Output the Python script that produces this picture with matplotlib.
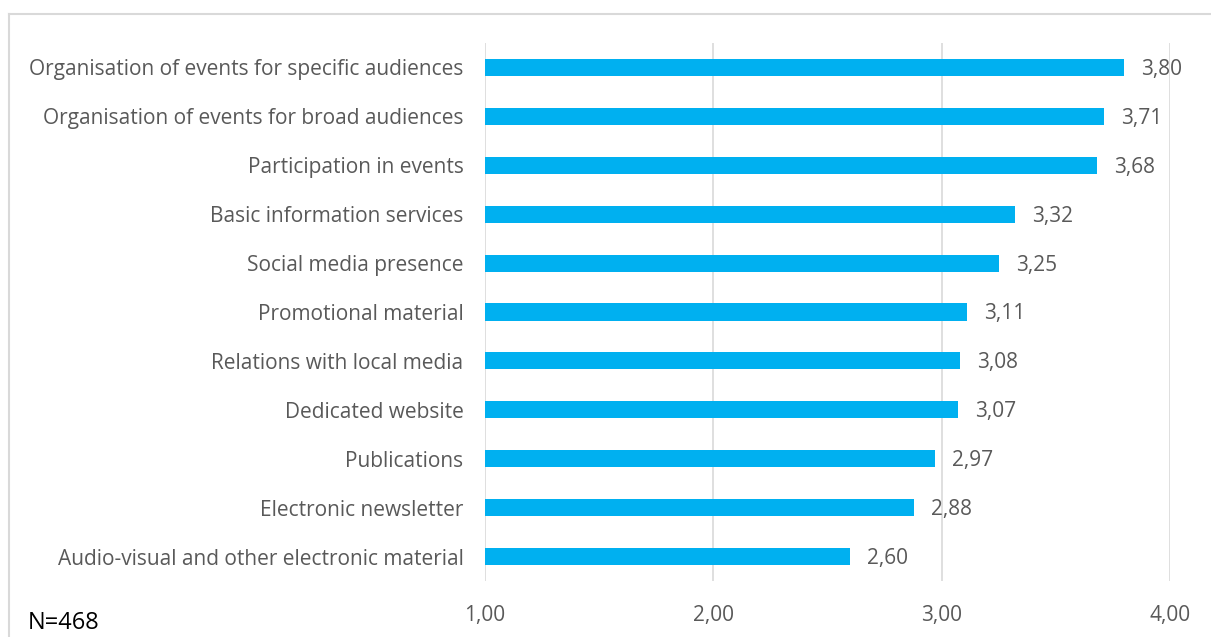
import matplotlib.pyplot as plt
from matplotlib.lines import Line2D

categories = [
    "Organisation of events for specific audiences",
    "Organisation of events for broad audiences",
    "Participation in events",
    "Basic information services",
    "Social media presence",
    "Promotional material",
    "Relations with local media",
    "Dedicated website",
    "Publications",
    "Electronic newsletter",
    "Audio-visual and other electronic material",
]
values = [3.80, 3.71, 3.68, 3.32, 3.25, 3.11, 3.08, 3.07, 2.97, 2.88, 2.60]
x_ticks = [1, 2, 3, 4]
note = "N=468"

BAR = "#00B0F0"
TXT = "#595959"
GRID = "#D9D9D9"
FS = 15

plt.rcParams["font.family"] = ["Open Sans", "DejaVu Sans"]

W, H = 1211, 637
fig = plt.figure(figsize=(W / 100, H / 100), dpi=100)
ax = fig.add_axes([485 / W, 1 - 581 / H, (1170 - 485) / W, (581 - 43) / H])

y = list(range(len(categories)))
ax.barh(y, [v - 1 for v in values], left=1, height=0.35, color=BAR, zorder=3)
for yi, v in zip(y, values):
    ax.text(v + 0.075, yi + 0.04, f"{v:.2f}".replace(".", ","), va="center", ha="left",
            fontsize=FS, color=TXT)

ax.set_xlim(1, 4)
ax.set_ylim(len(categories) - 0.5, -0.5)
ax.set_xticks(x_ticks)
ax.set_xticklabels([f"{t:.2f}".replace(".", ",") for t in x_ticks], fontsize=FS, color=TXT)
ax.set_yticks(y)
ax.set_yticklabels(categories, fontsize=FS, color=TXT)
ax.tick_params(axis="both", length=0)
ax.tick_params(axis="x", pad=17)
ax.tick_params(axis="y", pad=15.5)
ax.grid(axis="x", color=GRID, lw=1.2, zorder=0)
for s in ax.spines.values():
    s.set_visible(False)

fig.text(28 / W, 1 - 623 / H, note, fontsize=17, color="black", ha="left", va="center")

# light chart frame (top and left edges visible)
fig.add_artist(Line2D([9 / W, 1], [1 - 14 / H, 1 - 14 / H], color=GRID, lw=1.5,
                      transform=fig.transFigure))
fig.add_artist(Line2D([9 / W, 9 / W], [0, 1 - 14 / H], color=GRID, lw=1.5,
                      transform=fig.transFigure))

fig.savefig("out.png", dpi=100)
